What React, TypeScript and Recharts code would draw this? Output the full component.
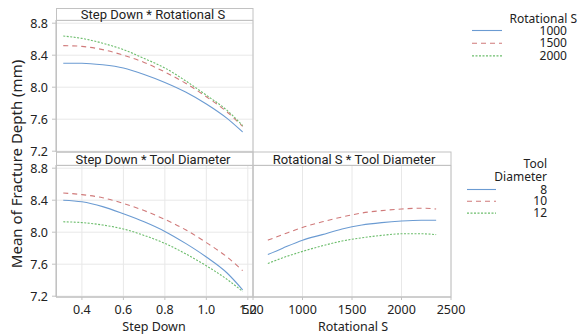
import React from "react";
import { LineChart, Line, XAxis, YAxis, CartesianGrid } from "recharts";

// Step Down levels along the fitted curves
const stepDown = [0.31, 0.4, 0.5, 0.6, 0.7, 0.8, 0.9, 1.0, 1.1, 1.175];
// Step Down * Rotational S (mean fracture depth, mm)
const sdRot1000 = [8.3, 8.3, 8.28, 8.24, 8.16, 8.06, 7.94, 7.79, 7.61, 7.44];
const sdRot1500 = [8.52, 8.51, 8.47, 8.4, 8.31, 8.19, 8.05, 7.88, 7.69, 7.51];
const sdRot2000 = [8.64, 8.61, 8.55, 8.47, 8.36, 8.24, 8.08, 7.9, 7.71, 7.52];
// Step Down * Tool Diameter
const sdTool8 = [8.4, 8.38, 8.32, 8.23, 8.13, 8.01, 7.86, 7.69, 7.49, 7.28];
const sdTool10 = [8.49, 8.47, 8.43, 8.36, 8.27, 8.16, 8.03, 7.87, 7.69, 7.52];
const sdTool12 = [8.13, 8.12, 8.09, 8.04, 7.96, 7.86, 7.73, 7.58, 7.41, 7.26];

// Rotational S levels
const rotSpeed = [650, 800, 1000, 1200, 1400, 1600, 1800, 2000, 2200, 2350];
// Rotational S * Tool Diameter
const rotTool8 = [7.72, 7.8, 7.9, 7.97, 8.04, 8.09, 8.12, 8.14, 8.15, 8.15];
const rotTool10 = [7.9, 7.97, 8.06, 8.13, 8.19, 8.24, 8.27, 8.29, 8.3, 8.29];
const rotTool12 = [7.61, 7.68, 7.76, 7.83, 7.89, 7.93, 7.96, 7.98, 7.98, 7.97];

const yTicks = [7.2, 7.6, 8.0, 8.4, 8.8];
const stepDownTicks = [0.4, 0.6, 0.8, 1.0, 1.2];
const rotTicks = [500, 1000, 1500, 2000, 2500];
const rotLevels = ["1000", "1500", "2000"];
const toolLevels = ["8", "10", "12"];

const W = 579;
const H = 335;
const FONT = "'Noto Sans', 'Open Sans', sans-serif";
const STRIP_FONT = "Roboto, 'Noto Sans', sans-serif";
const TEXT = "#222222";
const GRID = "#e8e8e8";
const FRAME = "#c2c2c2";

const styles = [
  { stroke: "#6b9bd2", dash: undefined as string | undefined },
  { stroke: "#d07a7a", dash: "5 4" },
  { stroke: "#6cbd6c", dash: "2 1.5" },
];

const sdRotData = stepDown.map((x, i) => ({ x, a: sdRot1000[i], b: sdRot1500[i], c: sdRot2000[i] }));
const sdToolData = stepDown.map((x, i) => ({ x, a: sdTool8[i], b: sdTool10[i], c: sdTool12[i] }));
const rotToolData = rotSpeed.map((x, i) => ({ x, a: rotTool8[i], b: rotTool10[i], c: rotTool12[i] }));

const yDomain: [number, number] = [7.19, 8.84];
const tickStyle = { fill: TEXT, fontSize: 12.5, fontFamily: FONT };

function series() {
  return ["a", "b", "c"].map((k, i) => (
    <Line
      key={k}
      dataKey={k}
      type="monotone"
      stroke={styles[i].stroke}
      strokeDasharray={styles[i].dash}
      strokeWidth={1.1}
      dot={false}
      activeDot={false}
      isAnimationActive={false}
    />
  ));
}

const abs: React.CSSProperties = { position: "absolute", left: 0, top: 0 };

export default function App() {
  return (
    <div style={{ position: "absolute", left: 0, top: 0, width: W, height: H, background: "#fff", fontFamily: FONT }}>
      {/* Step Down * Rotational S */}
      <div style={abs}>
        <LineChart width={W} height={H} data={sdRotData} margin={{ top: 20, left: 0, right: W - 253, bottom: H - 152 }}>
          <CartesianGrid stroke={GRID} />
          <XAxis dataKey="x" type="number" domain={[0.275, 1.225]} ticks={stepDownTicks} tick={false} axisLine={false} tickLine={false} height={0} allowDataOverflow />
          <YAxis type="number" domain={yDomain} ticks={yTicks} width={56} tick={tickStyle} tickSize={4} tickMargin={4} stroke={FRAME} tickFormatter={(v: number) => v.toFixed(1)} allowDataOverflow />
          {series()}
        </LineChart>
      </div>
      {/* Step Down * Tool Diameter */}
      <div style={abs}>
        <LineChart width={W} height={H} data={sdToolData} margin={{ top: 165, left: 0, right: W - 253, bottom: 18 }}>
          <CartesianGrid stroke={GRID} />
          <XAxis dataKey="x" type="number" domain={[0.275, 1.225]} ticks={stepDownTicks} height={20} tick={tickStyle} tickSize={3} tickMargin={5} stroke={FRAME} tickFormatter={(v: number) => v.toFixed(1)} allowDataOverflow />
          <YAxis type="number" domain={yDomain} ticks={yTicks} width={56} tick={tickStyle} tickSize={4} tickMargin={4} stroke={FRAME} tickFormatter={(v: number) => v.toFixed(1)} allowDataOverflow />
          {series()}
        </LineChart>
      </div>
      {/* Rotational S * Tool Diameter */}
      <div style={abs}>
        <LineChart width={W} height={H} data={rotToolData} margin={{ top: 165, left: 253, right: W - 451, bottom: 18 }}>
          <CartesianGrid stroke={GRID} />
          <XAxis dataKey="x" type="number" domain={[500, 2500]} ticks={rotTicks} height={20} tick={tickStyle} tickSize={3} tickMargin={5} stroke={FRAME} allowDataOverflow />
          <YAxis type="number" domain={yDomain} ticks={yTicks} width={0} tick={false} axisLine={false} tickLine={false} allowDataOverflow />
          {series()}
        </LineChart>
      </div>
      {/* panel frames, strips, titles and legends */}
      <svg width={W} height={H} style={{ ...abs, pointerEvents: "none" }} fontFamily={FONT}>
        <g fill="none" stroke={FRAME} strokeWidth={1}>
          <rect x={56.5} y={8.5} width={196.5} height={143.5} />
          <rect x={56.5} y={152} width={196.5} height={145} />
          <rect x={253} y={152} width={198} height={145} />
          <line x1={56.5} x2={253} y1={20.5} y2={20.5} />
          <line x1={56.5} x2={451} y1={165.5} y2={165.5} />
        </g>
        <g fill={TEXT} fontSize={13} fontFamily={STRIP_FONT} textAnchor="middle">
          <text x={153} y={19}>Step Down * Rotational S</text>
          <text x={153} y={164}>Step Down * Tool Diameter</text>
          <text x={354} y={164}>Rotational S * Tool Diameter</text>
        </g>
        <g fill={TEXT} fontSize={12.5} textAnchor="middle">
          <text x={154} y={330.5}>Step Down</text>
          <text x={353} y={330.5}>Rotational S</text>
          <text x={0} y={0} fontSize={15} transform="translate(22 164) rotate(-90)">Mean of Fracture Depth (mm)</text>
        </g>
        <g fill={TEXT} fontSize={12} textAnchor="end">
          <text x={577} y={23}>Rotational S</text>
          {rotLevels.map((t, i) => (
            <g key={t}>
              <text x={567} y={34.5 + i * 12.7}>{t}</text>
              <line x1={472} x2={502} y1={30.5 + i * 12.7} y2={30.5 + i * 12.7} stroke={styles[i].stroke} strokeDasharray={styles[i].dash} strokeWidth={1.1} />
            </g>
          ))}
          <text x={547} y={168}>Tool</text>
          <text x={547} y={181}>Diameter</text>
          {toolLevels.map((t, i) => (
            <g key={t}>
              <text x={547} y={193.5 + i * 11.8}>{t}</text>
              <line x1={467} x2={496} y1={189.5 + i * 11.8} y2={189.5 + i * 11.8} stroke={styles[i].stroke} strokeDasharray={styles[i].dash} strokeWidth={1.1} />
            </g>
          ))}
        </g>
      </svg>
    </div>
  );
}
